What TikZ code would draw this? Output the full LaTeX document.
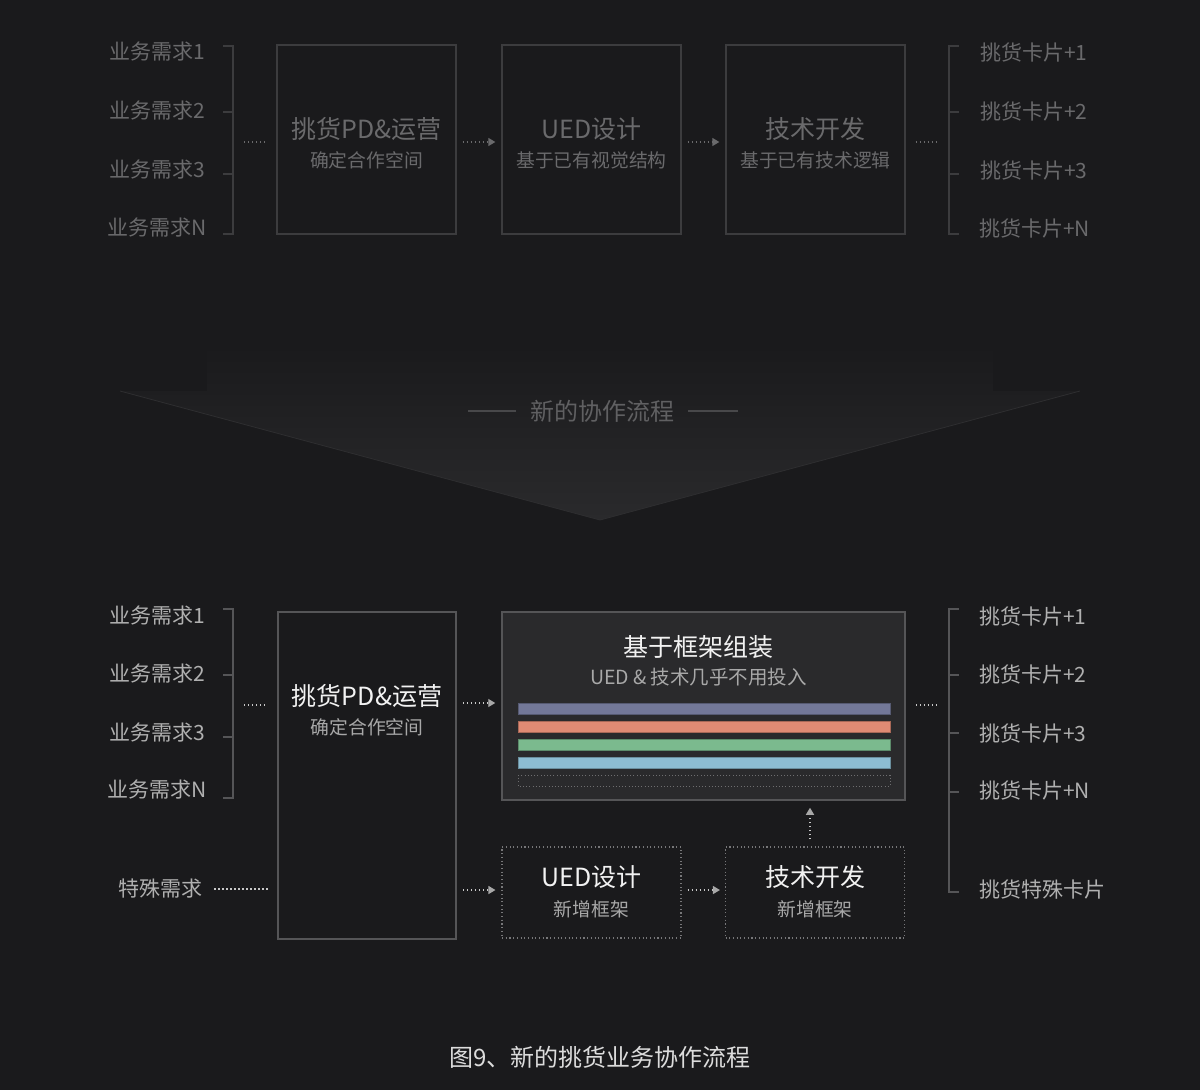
\documentclass[tikz,border=0pt]{standalone}
\usepackage{fontspec}
\setmainfont{Noto Sans CJK SC}
\usetikzlibrary{arrows.meta,calc}
\definecolor{bg}{HTML}{1A1A1C}
\definecolor{arrowbot}{HTML}{2A2A2C}
\definecolor{arrowedge}{HTML}{2E2E30}
\definecolor{topTxt}{HTML}{6A6A6C}
\definecolor{topLine}{HTML}{3C3C3E}
\definecolor{topDot}{HTML}{6A6A6C}
\definecolor{midTxt}{HTML}{606062}
\definecolor{midLine}{HTML}{48484A}
\definecolor{botTxt}{HTML}{B0B0B0}
\definecolor{botWhite}{HTML}{F2F2F2}
\definecolor{botSub}{HTML}{A8A8A8}
\definecolor{botLine}{HTML}{555557}
\definecolor{botDot}{HTML}{C8C8C8}
\definecolor{botHead}{HTML}{A8A8A8}
\definecolor{fwFill}{HTML}{2A2A2C}
\definecolor{barP}{HTML}{737898}
\definecolor{barO}{HTML}{E08B74}
\definecolor{barG}{HTML}{7BBA8E}
\definecolor{barB}{HTML}{8DBDD2}
\definecolor{capTxt}{HTML}{DCDCDC}
\tikzset{
  lbltop/.style={font=\fontsize{21}{25}\selectfont, text=topTxt, inner sep=0pt},
  lblbot/.style={font=\fontsize{21}{25}\selectfont, text=botTxt, inner sep=0pt},
  boxtop/.style={draw=topLine, line width=1.3pt, minimum width=179pt, minimum height=189pt, inner sep=0pt},
  boxbot/.style={draw=botLine, line width=1.5pt, inner sep=0pt},
  boxdot/.style={draw=botLine!80!white, line width=1.1pt, dash pattern=on 1.1pt off 2.6pt, minimum width=179pt, minimum height=91pt, inner sep=0pt},
  titletop/.style={font=\fontsize{25}{29}\selectfont, text=topTxt, inner sep=0pt},
  subtop/.style={font=\fontsize{18.8}{22}\selectfont, text=topTxt, inner sep=0pt},
  titlebot/.style={font=\fontsize{25}{29}\selectfont, text=botWhite, inner sep=0pt},
  subbot/.style={font=\fontsize{18.8}{22}\selectfont, text=botSub, inner sep=0pt},
  bracktop/.style={draw=topLine, line width=1.3pt},
  brackbot/.style={draw=botLine, line width=1.3pt},
  dotstop/.style={draw=topDot, line width=1.3pt, dash pattern=on 1.3pt off 2.7pt},
  dotsbot/.style={draw=botDot, line width=1.3pt, dash pattern=on 1.3pt off 2.7pt},
  headtop/.style={-{Triangle[length=7pt,width=8pt,color=topDot]}},
  headbot/.style={-{Triangle[length=7pt,width=8pt,color=botHead]}},
  barstyle/.style={line width=0.8pt},
}
\begin{document}
\begin{tikzpicture}[x=1pt,y=-1pt]
\fill[bg] (0,0) rectangle (1200,1090);
\useasboundingbox (0,0) rectangle (1200,1090);

%================ TOP SECTION ================
% left labels
\node[lbltop, anchor=east] (tl1) at (205,52) {业务需求1};
\node[lbltop, anchor=east] (tl2) at (205,111) {业务需求2};
\node[lbltop, anchor=east] (tl3) at (205,170) {业务需求3};
\node[lbltop, anchor=east] (tl4) at (207,228) {业务需求N};
% left bracket
\draw[bracktop] (223,46) -- (233,46) -- (233,234) -- (223,234);
\draw[bracktop] (223,112) -- (233,112);
\draw[bracktop] (223,174) -- (233,174);
\coordinate (tlb) at (233,142);

% boxes
\node[boxtop] (t1) at (366.5,139.5) {};
\node[boxtop] (t2) at (591.5,139.5) {};
\node[boxtop] (t3) at (815.5,139.5) {};
\node[titletop] (t1a) at (366.5,129) {挑货PD\&运营};
\node[subtop]   (t1b) at (366.5,160) {确定合作空间};
\node[titletop] (t2a) at (591.5,129) {UED设计};
\node[subtop]   (t2b) at (591.5,160) {基于已有视觉结构};
\node[titletop] (t3a) at (815.5,129) {技术开发};
\node[subtop]   (t3b) at (815.5,160) {基于已有技术逻辑};

% connectors
\draw[dotstop, shorten <=11pt, shorten >=10pt] (tlb) -- (tlb -| t1.west);
\draw[dotstop, headtop, shorten <=6pt, shorten >=6pt] ([yshift=-2.5pt]t1.east) -- ([yshift=-2.5pt]t2.west);
\draw[dotstop, headtop, shorten <=6pt, shorten >=6pt] ([yshift=-2.5pt]t2.east) -- ([yshift=-2.5pt]t3.west);
\coordinate (trb) at (949,142);
\draw[dotstop, shorten <=10pt, shorten >=10pt] ([yshift=-2.5pt]t3.east) -- (trb);

% right bracket
\draw[bracktop] (959,46) -- (949,46) -- (949,234) -- (959,234);
\draw[bracktop] (949,112) -- (959,112);
\draw[bracktop] (949,174) -- (959,174);
% right labels
\node[lbltop, anchor=west] (tr1) at (980,52) {挑货卡片+1};
\node[lbltop, anchor=west] (tr2) at (980,111) {挑货卡片+2};
\node[lbltop, anchor=west] (tr3) at (980,170) {挑货卡片+3};
\node[lbltop, anchor=west] (tr4) at (979,228) {挑货卡片+N};

%================ MIDDLE ARROW ================
\shade[top color=bg, bottom color=arrowbot]
  (207,345) -- (993,345) -- (993,391) -- (1080,391) -- (600,520) -- (120,391) -- (207,391) -- cycle;
\draw[arrowedge, line width=0.8pt] (120,391) -- (600,520) -- (1080,391);
\node[font=\fontsize{24}{28}\selectfont, text=midTxt, inner sep=0pt] (mid) at (602,411) {新的协作流程};
\draw[midLine, line width=1.4pt] (468,411) -- (516,411);
\draw[midLine, line width=1.4pt] (688,411) -- (738,411);

%================ BOTTOM SECTION ================
% left labels
\node[lblbot, anchor=east] (bl1) at (205,616) {业务需求1};
\node[lblbot, anchor=east] (bl2) at (205,674) {业务需求2};
\node[lblbot, anchor=east] (bl3) at (205,733) {业务需求3};
\node[lblbot, anchor=east] (bl4) at (207,790) {业务需求N};
\draw[brackbot] (223,609) -- (233,609) -- (233,798) -- (223,798);
\draw[brackbot] (223,675) -- (233,675);
\draw[brackbot] (223,737) -- (233,737);
\coordinate (blb) at (233,705);

\node[lblbot] (sp) at (160,889) {特殊需求};

% main boxes
\node[boxbot, minimum width=178pt, minimum height=327pt] (b1) at (367,775.5) {};
\node[titlebot] (b1a) at (367,696) {挑货PD\&运营};
\node[subbot]   (b1b) at (367,727) {确定合作空间};

\node[boxbot, fill=fwFill, minimum width=403pt, minimum height=188pt] (fw) at (703.5,706) {};
\node[titlebot] (fwa) at (698,647) {基于框架组装};
\node[subbot, font=\fontsize{19.5}{23}\selectfont] (fwb) at (698.5,677) {UED \& 技术几乎不用投入};

% bars
\draw[barstyle, draw=barP!75!black, fill=barP] (518,703) rectangle (890,714);
\draw[barstyle, draw=barO!75!black, fill=barO] (518,721) rectangle (890,732);
\draw[barstyle, draw=barG!75!black, fill=barG] (518,739) rectangle (890,750);
\draw[barstyle, draw=barB!75!black, fill=barB] (518,757) rectangle (890,768);
\draw[draw=botLine!85!white, line width=1pt, dash pattern=on 1pt off 2.2pt] (518,775) rectangle (890,786);

% dotted boxes
\node[boxdot] (u) at (591.5,892.5) {};
\node[titlebot] (ua) at (591.5,877) {UED设计};
\node[subbot]   (ub) at (591.5,909) {新增框架};
\node[boxdot] (k) at (815,892.5) {};
\node[titlebot] (ka) at (815,877) {技术开发};
\node[subbot]   (kb) at (815,909) {新增框架};

% connectors
\draw[dotsbot, shorten <=11pt, shorten >=10pt] (blb) -- (blb -| b1.west);
\draw[dotsbot, shorten <=12pt, shorten >=8pt] (sp.east) -- (sp.east -| b1.west);
\draw[dotsbot, headbot, shorten <=6pt, shorten >=6pt] ([yshift=3pt]fw.west -| b1.east) -- ([yshift=3pt]fw.west);
\draw[dotsbot, headbot, shorten <=6pt, shorten >=6pt] ([yshift=2.5pt]u.west -| b1.east) -- ([yshift=2.5pt]u.west);
\draw[dotsbot, headbot, shorten <=6pt, shorten >=5pt] ([yshift=2.5pt]u.east) -- ([yshift=2.5pt]k.west);
\draw[dotsbot, headbot, shorten <=7pt, shorten >=7pt] ([xshift=-5pt]k.north) -- ([xshift=-5pt]k.north |- fw.south);
\coordinate (brb) at (949,705);
\draw[dotsbot, shorten <=10pt, shorten >=10pt] ([yshift=1pt]fw.east) -- (brb);

% right bracket
\draw[brackbot] (959,609) -- (949,609) -- (949,892) -- (959,892);
\draw[brackbot] (949,675) -- (959,675);
\draw[brackbot] (949,733) -- (959,733);
\draw[brackbot] (949,792) -- (959,792);
% right labels
\node[lblbot, anchor=west] (br1) at (979,616) {挑货卡片+1};
\node[lblbot, anchor=west] (br2) at (979,674) {挑货卡片+2};
\node[lblbot, anchor=west] (br3) at (979,733) {挑货卡片+3};
\node[lblbot, anchor=west] (br4) at (979,790) {挑货卡片+N};
\node[lblbot, anchor=west] (br5) at (979,890) {挑货特殊卡片};

% caption
\node[font=\fontsize{24}{28}\selectfont, text=capTxt, inner sep=0pt] (cap) at (600,1057) {图9、新的挑货业务协作流程};
\end{tikzpicture}
\end{document}
